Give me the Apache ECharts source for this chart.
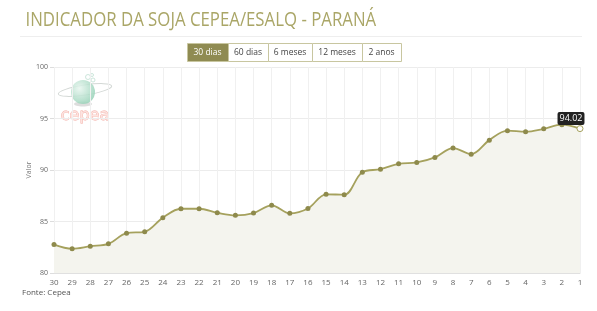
<!DOCTYPE html>
<html><head><meta charset="utf-8">
<script src="https://cdn.jsdelivr.net/npm/echarts@6/dist/echarts.min.js"></script>
<style>html,body{margin:0;padding:0;background:#fff}#c{width:597px;height:311px}</style>
</head><body><div id="c"></div>
<script>
const categories = ['30','29','28','27','26','25','24','23','22','21','20','19','18','17','16','15','14','13','12','11','10','9','8','7','6','5','4','3','2','1'];
const values = [82.76,82.36,82.6,82.83,83.87,84.0,85.37,86.24,86.24,85.85,85.6,85.82,86.57,85.79,86.26,87.64,87.6,89.79,90.08,90.6,90.73,91.22,92.13,91.54,92.9,93.82,93.72,94.0,94.4,94.02];
const buttons = ['30 dias','60 dias','6 meses','12 meses','2 anos'];
const yTicks = [80,85,90,95,100];

const lineColor = '#a5a15d';
const btnX = [187,228,268,312,362,401];
const graphics = [
  {type:'text', x:22, y:10, scaleX:0.84, originX:22, originY:10, style:{text:'INDICADOR DA SOJA CEPEA/ESALQ - PARANÁ', font:'20px "Open Sans"', fill:'#aaa667'}},
  {type:'line', shape:{x1:20,y1:36.5,x2:582,y2:36.5}, style:{stroke:'#eeeeee', lineWidth:1}},
  {type:'text', left:22, top:289, style:{text:'Fonte: Cepea', font:'8px "Open Sans"', fill:'#555'}}
];
buttons.forEach((b,i)=>{
  const x0 = btnX[i], x1 = btnX[i+1];
  graphics.push({type:'rect', shape:{x:x0+0.5,y:43.5,width:x1-x0,height:18}, style:{fill: i===0 ? '#8f8b52' : '#fff', stroke:'#c8c6a0', lineWidth:1}});
  graphics.push({type:'text', x:(x0+x1)/2, y:52.5, style:{text:b, font:'8.5px "Open Sans"', fill: i===0 ? '#fff' : '#444', align:'center', verticalAlign:'middle'}});
});
// cepea logo
graphics.push(
  {type:'ellipse', shape:{cx:83,cy:104,rx:9,ry:2.5}, style:{fill:'#d4d4d4', opacity:0.8}},
  {type:'ellipse', shape:{cx:85,cy:90,rx:27,ry:5}, rotation:0.15, originX:85, originY:90, style:{fill:null, stroke:'#d3d8d5', lineWidth:1}},
  {type:'circle', shape:{cx:83,cy:92,r:12}, style:{fill:{type:'radial',x:0.35,y:0.35,r:0.8,colorStops:[{offset:0,color:'#e8f6ef'},{offset:1,color:'#8ccdb0'}]}, opacity:0.85}},
  {type:'circle', shape:{cx:88,cy:77,r:2.5}, style:{fill:null, stroke:'#bfe0d2', lineWidth:0.8}},
  {type:'circle', shape:{cx:93,cy:80,r:2}, style:{fill:null, stroke:'#bfe0d2', lineWidth:0.8}},
  {type:'circle', shape:{cx:92,cy:75,r:1.5}, style:{fill:null, stroke:'#bfe0d2', lineWidth:0.8}},
  {type:'text', x:85, y:116, style:{text:'cepea', font:'16px "DejaVu Sans"', fill:'#fde4e0', stroke:'#f2aaa2', lineWidth:0.8, align:'center', verticalAlign:'middle'}}
);

const data = values.map((v,i)=> i===values.length-1 ? {
  value:v, symbolSize:6,
  itemStyle:{color:'#fff', borderColor:lineColor, borderWidth:1},
  label:{show:true, position:'top', offset:[-9,5], formatter:()=>v.toFixed(2), backgroundColor:'#222', color:'#fff', padding:[2,2], borderRadius:2, fontSize:9, fontFamily:'Open Sans'}
} : v);

const chart = echarts.init(document.getElementById('c'));
chart.setOption({
  animation:false,
  graphic: graphics,
  grid:{left:54, right:17, top:67, bottom:38},
  xAxis:{type:'category', data:categories, boundaryGap:false,
    axisLine:{lineStyle:{color:'#e0e0e0'}}, axisTick:{show:false},
    axisLabel:{color:'#666', fontSize:8, margin:6, fontFamily:'Open Sans'},
    splitLine:{show:true, lineStyle:{color:'#f0f0f0'}}},
  yAxis:{type:'value', min:80, max:100, interval:5, name:'Valor', nameLocation:'middle', nameGap:22, nameMoveOverlap:false,
    nameTextStyle:{color:'#777', fontSize:7, fontFamily:'Open Sans'},
    axisLine:{show:false}, axisTick:{show:true, length:4, lineStyle:{color:'#ddd'}},
    axisLabel:{color:'#666', fontSize:7, margin:6, fontFamily:'Open Sans', formatter:v=>yTicks.includes(v)?String(v):''},
    splitLine:{lineStyle:{color:'#ececec'}}},
  series:[{type:'line', data:data, smooth:0.35, symbol:'circle', symbolSize:5,
    lineStyle:{color:lineColor, width:1.8}, itemStyle:{color:'#8e8a4c'},
    areaStyle:{color:'#f4f4ee', opacity:1}}]
});
</script></body></html>
